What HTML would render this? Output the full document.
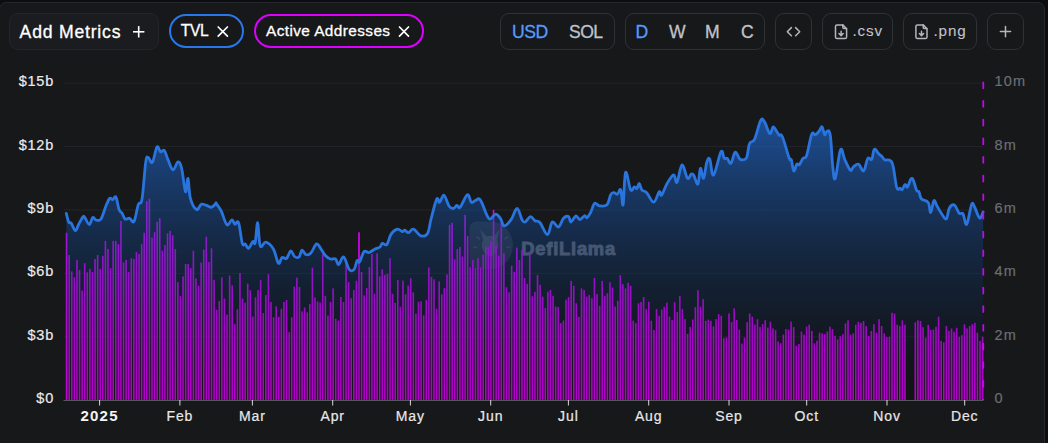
<!DOCTYPE html>
<html><head><meta charset="utf-8">
<style>
html,body{margin:0;padding:0;}
body{width:1048px;height:443px;overflow:hidden;background:#0c0d10;position:relative;font-family:"Liberation Sans",sans-serif;}
.card{position:absolute;left:-1px;top:2px;width:1046px;height:460px;box-sizing:border-box;border:1px solid #26282c;border-radius:7px;background:#17181a;}
.btn{position:absolute;box-sizing:border-box;border:1px solid #2f3135;border-radius:9px;height:37px;top:13px;color:#b6b9bf;font-size:17px;line-height:34px;white-space:nowrap;}
.add{background:#1b1c1f;border-color:#232528;color:#fff;}
.pill{position:absolute;box-sizing:border-box;border:2px solid #2a6fd8;border-radius:17px;height:34px;top:14px;color:#fff;font-size:16px;line-height:29px;white-space:nowrap;}
.t{position:absolute;top:0;}
.blue{color:#559bff;}
svg{position:absolute;left:0;top:0;}
.yl{font-size:14.5px;fill:#ececec;letter-spacing:0.75px;stroke:#e8e8e8;stroke-width:0.2px;}
.yr{font-size:14.5px;fill:#6c6e72;letter-spacing:1.2px;stroke:#686a6e;stroke-width:0.2px;}
.xl{font-size:14px;fill:#e8e8e8;letter-spacing:0.9px;stroke:#e8e8e8;stroke-width:0.2px;}
.xlb{font-size:15px;fill:#f4f4f4;font-weight:bold;letter-spacing:1.2px;}
</style></head>
<body>
<div class="card"></div>

<div class="btn add" style="left:9px;width:150px;"></div>
<div class="pill" style="left:169px;width:75px;border-color:#2877ec;"></div>
<div class="pill" style="left:254px;width:170px;border-color:#dc00ff;"></div>
<div class="btn" style="left:500px;width:115px;"></div>
<div class="btn" style="left:625px;width:140px;"></div>
<div class="btn" style="left:775px;width:37px;"></div>
<div class="btn" style="left:822px;width:71px;"></div>
<div class="btn" style="left:903px;width:74px;"></div>
<div class="btn" style="left:987px;width:37px;"></div>

<svg width="1048" height="60" style="left:0;top:0">
  <g font-family="Liberation Sans, sans-serif" stroke-width="0.3">
    <text x="19.6" y="37.6" font-size="17.6" letter-spacing="0.8" fill="#fff" stroke="#fff">Add Metrics</text>
    <text x="180.8" y="36.1" font-size="15.6" letter-spacing="-0.4" fill="#fff" stroke="#fff">TVL</text>
    <text x="266" y="36" font-size="15.4" letter-spacing="0.4" fill="#fff" stroke="#fff">Active Addresses</text>
    <text x="512" y="37.7" font-size="17.6" letter-spacing="-0.5" fill="#559bff" stroke="#559bff">USD</text>
    <text x="569" y="37.7" font-size="17.6" letter-spacing="-0.6" fill="#c0c3c9" stroke="#c0c3c9">SOL</text>
    <text x="635.6" y="37.7" font-size="17.6" fill="#559bff" stroke="#559bff">D</text>
    <text x="669" y="37.7" font-size="17.6" fill="#c0c3c9" stroke="#c0c3c9">W</text>
    <text x="705" y="37.7" font-size="17.6" fill="#c0c3c9" stroke="#c0c3c9">M</text>
    <text x="741" y="37.7" font-size="17.6" fill="#c0c3c9" stroke="#c0c3c9">C</text>
    <text x="852.5" y="35.7" font-size="15.2" letter-spacing="0.9" fill="#c0c3c9" stroke="#c0c3c9" stroke-width="0.1">.csv</text>
    <text x="933.5" y="35.7" font-size="15.2" letter-spacing="0.9" fill="#c0c3c9" stroke="#c0c3c9" stroke-width="0.1">.png</text>
  </g>
  <g stroke="#ffffff" stroke-width="1.6" fill="none">
    <line x1="133" y1="31.8" x2="144.4" y2="31.8"/><line x1="138.7" y1="26.1" x2="138.7" y2="37.5"/>
  </g>
  <g stroke="#ffffff" stroke-width="1.7" fill="none" stroke-linecap="round">
    <line x1="218.2" y1="27" x2="227.4" y2="36.2"/><line x1="227.4" y1="27" x2="218.2" y2="36.2"/>
    <line x1="399.5" y1="27" x2="408.5" y2="36.2"/><line x1="408.5" y1="27" x2="399.5" y2="36.2"/>
  </g>
  <g stroke="#b4b6ba" stroke-width="1.5" fill="none" stroke-linecap="round" stroke-linejoin="round">
    <polyline points="791.4,27.6 787.3,31.7 791.4,35.8"/><polyline points="795.6,27.6 799.7,31.7 795.6,35.8"/>
    <line x1="1000.4" y1="31.6" x2="1010.6" y2="31.6"/><line x1="1005.5" y1="26.5" x2="1005.5" y2="36.7"/>
    <g transform="translate(0.6,0)">
    <path d="M836.5,24.9 H842.2 L846,28.7 V36.9 Q846,38.5 844.4,38.5 H836.5 Q834.9,38.5 834.9,36.9 V26.5 Q834.9,24.9 836.5,24.9 Z"/>
    <path d="M842.2,25 V27.3 Q842.2,28.6 843.5,28.6 H845.9"/>
    <path d="M840.5,31.2 V35.5 M838.4,33.5 L840.5,35.6 L842.6,33.5"/>
    </g>
    <g transform="translate(81,0)">
    <path d="M836.5,24.9 H842.2 L846,28.7 V36.9 Q846,38.5 844.4,38.5 H836.5 Q834.9,38.5 834.9,36.9 V26.5 Q834.9,24.9 836.5,24.9 Z"/>
    <path d="M842.2,25 V27.3 Q842.2,28.6 843.5,28.6 H845.9"/>
    <path d="M840.5,31.2 V35.5 M838.4,33.5 L840.5,35.6 L842.6,33.5"/>
    </g>
  </g>
</svg>

<svg width="1048" height="443" style="left:0;top:0">
  <defs>
    <linearGradient id="ag" x1="0" y1="120.4" x2="0" y2="400" gradientUnits="userSpaceOnUse">
<stop offset="0.00" stop-color="rgb(33, 114, 229)" stop-opacity="0.600"/>
<stop offset="0.10" stop-color="rgb(30, 103, 206)" stop-opacity="0.560"/>
<stop offset="0.20" stop-color="rgb(26, 91, 183)" stop-opacity="0.520"/>
<stop offset="0.30" stop-color="rgb(23, 80, 160)" stop-opacity="0.480"/>
<stop offset="0.40" stop-color="rgb(20, 68, 137)" stop-opacity="0.440"/>
<stop offset="0.50" stop-color="rgb(16, 57, 114)" stop-opacity="0.400"/>
<stop offset="0.60" stop-color="rgb(13, 46, 92)" stop-opacity="0.360"/>
<stop offset="0.70" stop-color="rgb(10, 34, 69)" stop-opacity="0.320"/>
<stop offset="0.80" stop-color="rgb(7, 23, 46)" stop-opacity="0.280"/>
<stop offset="0.90" stop-color="rgb(3, 11, 23)" stop-opacity="0.240"/>
<stop offset="1.00" stop-color="rgb(0, 0, 0)" stop-opacity="0.200"/>
    </linearGradient>
  </defs>
  <g stroke="#242529" stroke-width="1">
<line x1="63.5" y1="83.2" x2="983" y2="83.2"/>
<line x1="63.5" y1="146.6" x2="983" y2="146.6"/>
<line x1="63.5" y1="210.0" x2="983" y2="210.0"/>
<line x1="63.5" y1="273.4" x2="983" y2="273.4"/>
<line x1="63.5" y1="336.8" x2="983" y2="336.8"/>
  </g>
  <g fill="#c8c8d0">
    <path d="M476.5,221.5 H490 A23,23.75 0 0 1 490,269 H476.5 A7,7 0 0 1 469.5,262 V228.5 A7,7 0 0 1 476.5,221.5 Z" opacity="0.13"/>
    <path d="M480.5,229.5 L486.5,236.5 Q490,235 493.5,236.5 L499.5,229.5 L497,239.5 Q499,245 497.5,249 Q495,256 490,256 Q485,256 482.5,249 Q481,245 483,239.5 Z" opacity="0.2"/>
    <g stroke="#c8c8d0" stroke-width="1.6" stroke-linecap="round" opacity="0.16">
      <line x1="477" y1="237.3" x2="479.5" y2="238.8"/><line x1="473.8" y1="247.2" x2="476.5" y2="247.2"/>
      <line x1="505" y1="238.8" x2="507.5" y2="237.3"/><line x1="507" y1="247.2" x2="509.8" y2="247.2"/>
    </g>
    <text x="521.3" y="255.3" font-size="18.4" font-weight="bold" letter-spacing="0.75" stroke="#c8c8d0" stroke-width="0.9" opacity="0.46">DefiLlama</text>
  </g>
  <g fill="#e100ff">
<rect x="65.80" y="232.7" width="1.6" height="167.3"/>
<rect x="68.39" y="255.0" width="1.6" height="145.0"/>
<rect x="70.97" y="271.4" width="1.6" height="128.6"/>
<rect x="73.56" y="277.3" width="1.6" height="122.7"/>
<rect x="76.15" y="260.0" width="1.6" height="140.0"/>
<rect x="78.74" y="270.0" width="1.6" height="130.0"/>
<rect x="81.33" y="290.5" width="1.6" height="109.5"/>
<rect x="83.91" y="263.2" width="1.6" height="136.8"/>
<rect x="86.50" y="272.4" width="1.6" height="127.6"/>
<rect x="89.09" y="268.9" width="1.6" height="131.1"/>
<rect x="91.67" y="271.9" width="1.6" height="128.1"/>
<rect x="94.26" y="259.0" width="1.6" height="141.0"/>
<rect x="96.85" y="255.0" width="1.6" height="145.0"/>
<rect x="99.44" y="268.9" width="1.6" height="131.1"/>
<rect x="102.02" y="255.8" width="1.6" height="144.2"/>
<rect x="104.61" y="240.9" width="1.6" height="159.1"/>
<rect x="107.20" y="249.0" width="1.6" height="151.0"/>
<rect x="109.79" y="268.2" width="1.6" height="131.8"/>
<rect x="112.37" y="240.9" width="1.6" height="159.1"/>
<rect x="114.96" y="240.9" width="1.6" height="159.1"/>
<rect x="117.55" y="244.1" width="1.6" height="155.9"/>
<rect x="120.14" y="221.0" width="1.6" height="179.0"/>
<rect x="122.72" y="262.5" width="1.6" height="137.5"/>
<rect x="125.31" y="260.0" width="1.6" height="140.0"/>
<rect x="127.90" y="271.9" width="1.6" height="128.1"/>
<rect x="130.49" y="258.2" width="1.6" height="141.8"/>
<rect x="133.07" y="259.0" width="1.6" height="141.0"/>
<rect x="135.66" y="252.0" width="1.6" height="148.0"/>
<rect x="138.25" y="254.0" width="1.6" height="146.0"/>
<rect x="140.84" y="244.1" width="1.6" height="155.9"/>
<rect x="143.42" y="232.7" width="1.6" height="167.3"/>
<rect x="146.01" y="201.2" width="1.6" height="198.8"/>
<rect x="148.60" y="198.7" width="1.6" height="201.3"/>
<rect x="151.19" y="237.6" width="1.6" height="162.4"/>
<rect x="153.77" y="232.2" width="1.6" height="167.8"/>
<rect x="156.36" y="221.8" width="1.6" height="178.2"/>
<rect x="158.95" y="218.2" width="1.6" height="181.8"/>
<rect x="161.54" y="250.8" width="1.6" height="149.2"/>
<rect x="164.12" y="245.1" width="1.6" height="154.9"/>
<rect x="166.71" y="233.4" width="1.6" height="166.6"/>
<rect x="169.30" y="230.9" width="1.6" height="169.1"/>
<rect x="171.89" y="235.2" width="1.6" height="164.8"/>
<rect x="174.47" y="249.1" width="1.6" height="150.9"/>
<rect x="177.06" y="282.1" width="1.6" height="117.9"/>
<rect x="179.65" y="296.1" width="1.6" height="103.9"/>
<rect x="182.24" y="276.3" width="1.6" height="123.7"/>
<rect x="184.82" y="264.0" width="1.6" height="136.0"/>
<rect x="187.41" y="264.0" width="1.6" height="136.0"/>
<rect x="190.00" y="268.2" width="1.6" height="131.8"/>
<rect x="192.59" y="250.8" width="1.6" height="149.2"/>
<rect x="195.17" y="278.4" width="1.6" height="121.6"/>
<rect x="197.76" y="285.8" width="1.6" height="114.2"/>
<rect x="200.35" y="262.5" width="1.6" height="137.5"/>
<rect x="202.94" y="249.6" width="1.6" height="150.4"/>
<rect x="205.52" y="236.7" width="1.6" height="163.3"/>
<rect x="208.11" y="262.0" width="1.6" height="138.0"/>
<rect x="210.70" y="248.3" width="1.6" height="151.7"/>
<rect x="213.29" y="279.9" width="1.6" height="120.1"/>
<rect x="215.87" y="309.7" width="1.6" height="90.3"/>
<rect x="218.46" y="301.0" width="1.6" height="99.0"/>
<rect x="221.05" y="277.4" width="1.6" height="122.6"/>
<rect x="223.64" y="298.5" width="1.6" height="101.5"/>
<rect x="226.22" y="314.7" width="1.6" height="85.3"/>
<rect x="228.81" y="275.5" width="1.6" height="124.5"/>
<rect x="231.40" y="285.4" width="1.6" height="114.6"/>
<rect x="233.99" y="324.1" width="1.6" height="75.9"/>
<rect x="236.57" y="309.2" width="1.6" height="90.8"/>
<rect x="239.16" y="273.0" width="1.6" height="127.0"/>
<rect x="241.75" y="298.5" width="1.6" height="101.5"/>
<rect x="244.34" y="302.8" width="1.6" height="97.2"/>
<rect x="246.92" y="283.6" width="1.6" height="116.4"/>
<rect x="249.51" y="290.3" width="1.6" height="109.7"/>
<rect x="252.10" y="316.6" width="1.6" height="83.4"/>
<rect x="254.69" y="297.3" width="1.6" height="102.7"/>
<rect x="257.27" y="290.0" width="1.6" height="110.0"/>
<rect x="259.86" y="280.1" width="1.6" height="119.9"/>
<rect x="262.45" y="313.1" width="1.6" height="86.9"/>
<rect x="265.04" y="295.0" width="1.6" height="105.0"/>
<rect x="267.62" y="274.2" width="1.6" height="125.8"/>
<rect x="270.21" y="302.0" width="1.6" height="98.0"/>
<rect x="272.80" y="317.3" width="1.6" height="82.7"/>
<rect x="275.39" y="306.4" width="1.6" height="93.6"/>
<rect x="277.97" y="316.8" width="1.6" height="83.2"/>
<rect x="280.56" y="308.9" width="1.6" height="91.1"/>
<rect x="283.15" y="302.0" width="1.6" height="98.0"/>
<rect x="285.74" y="300.0" width="1.6" height="100.0"/>
<rect x="288.32" y="332.2" width="1.6" height="67.8"/>
<rect x="290.91" y="317.3" width="1.6" height="82.7"/>
<rect x="293.50" y="286.6" width="1.6" height="113.4"/>
<rect x="296.09" y="277.6" width="1.6" height="122.4"/>
<rect x="298.68" y="287.1" width="1.6" height="112.9"/>
<rect x="301.26" y="311.4" width="1.6" height="88.6"/>
<rect x="303.85" y="307.4" width="1.6" height="92.6"/>
<rect x="306.44" y="312.4" width="1.6" height="87.6"/>
<rect x="309.02" y="303.9" width="1.6" height="96.1"/>
<rect x="311.61" y="267.7" width="1.6" height="132.3"/>
<rect x="314.20" y="297.5" width="1.6" height="102.5"/>
<rect x="316.79" y="301.5" width="1.6" height="98.5"/>
<rect x="319.37" y="302.5" width="1.6" height="97.5"/>
<rect x="321.96" y="254.3" width="1.6" height="145.7"/>
<rect x="324.55" y="295.8" width="1.6" height="104.2"/>
<rect x="327.14" y="315.6" width="1.6" height="84.4"/>
<rect x="329.72" y="302.0" width="1.6" height="98.0"/>
<rect x="332.31" y="288.3" width="1.6" height="111.7"/>
<rect x="334.90" y="318.8" width="1.6" height="81.2"/>
<rect x="337.49" y="320.6" width="1.6" height="79.4"/>
<rect x="340.07" y="297.0" width="1.6" height="103.0"/>
<rect x="342.66" y="302.0" width="1.6" height="98.0"/>
<rect x="345.25" y="261.8" width="1.6" height="138.2"/>
<rect x="347.84" y="282.1" width="1.6" height="117.9"/>
<rect x="350.43" y="298.2" width="1.6" height="101.8"/>
<rect x="353.01" y="290.0" width="1.6" height="110.0"/>
<rect x="355.60" y="280.8" width="1.6" height="119.2"/>
<rect x="358.19" y="232.3" width="1.6" height="167.7"/>
<rect x="360.77" y="272.0" width="1.6" height="128.0"/>
<rect x="363.36" y="295.5" width="1.6" height="104.5"/>
<rect x="365.95" y="288.1" width="1.6" height="111.9"/>
<rect x="368.54" y="267.0" width="1.6" height="133.0"/>
<rect x="371.12" y="254.1" width="1.6" height="145.9"/>
<rect x="373.71" y="293.8" width="1.6" height="106.2"/>
<rect x="376.30" y="253.3" width="1.6" height="146.7"/>
<rect x="378.89" y="276.4" width="1.6" height="123.6"/>
<rect x="381.47" y="269.5" width="1.6" height="130.5"/>
<rect x="384.06" y="274.9" width="1.6" height="125.1"/>
<rect x="386.65" y="273.9" width="1.6" height="126.1"/>
<rect x="389.24" y="258.3" width="1.6" height="141.7"/>
<rect x="391.82" y="293.8" width="1.6" height="106.2"/>
<rect x="394.41" y="303.0" width="1.6" height="97.0"/>
<rect x="397.00" y="279.9" width="1.6" height="120.1"/>
<rect x="399.59" y="306.7" width="1.6" height="93.3"/>
<rect x="402.18" y="280.6" width="1.6" height="119.4"/>
<rect x="404.76" y="294.3" width="1.6" height="105.7"/>
<rect x="407.35" y="285.6" width="1.6" height="114.4"/>
<rect x="409.94" y="278.2" width="1.6" height="121.8"/>
<rect x="412.52" y="292.3" width="1.6" height="107.7"/>
<rect x="415.11" y="313.7" width="1.6" height="86.3"/>
<rect x="417.70" y="301.7" width="1.6" height="98.3"/>
<rect x="420.29" y="301.2" width="1.6" height="98.8"/>
<rect x="422.87" y="315.4" width="1.6" height="84.6"/>
<rect x="425.46" y="299.8" width="1.6" height="100.2"/>
<rect x="428.05" y="267.5" width="1.6" height="132.5"/>
<rect x="430.64" y="276.9" width="1.6" height="123.1"/>
<rect x="433.22" y="279.4" width="1.6" height="120.6"/>
<rect x="435.81" y="308.8" width="1.6" height="91.2"/>
<rect x="438.40" y="281.4" width="1.6" height="118.6"/>
<rect x="440.99" y="294.3" width="1.6" height="105.7"/>
<rect x="443.57" y="288.1" width="1.6" height="111.9"/>
<rect x="446.16" y="274.4" width="1.6" height="125.6"/>
<rect x="448.75" y="224.8" width="1.6" height="175.2"/>
<rect x="451.34" y="222.8" width="1.6" height="177.2"/>
<rect x="453.93" y="259.3" width="1.6" height="140.7"/>
<rect x="456.51" y="249.1" width="1.6" height="150.9"/>
<rect x="459.10" y="247.1" width="1.6" height="152.9"/>
<rect x="461.69" y="256.5" width="1.6" height="143.5"/>
<rect x="464.27" y="214.9" width="1.6" height="185.1"/>
<rect x="466.86" y="236.0" width="1.6" height="164.0"/>
<rect x="469.45" y="267.0" width="1.6" height="133.0"/>
<rect x="472.04" y="260.0" width="1.6" height="140.0"/>
<rect x="474.62" y="268.2" width="1.6" height="131.8"/>
<rect x="477.21" y="258.3" width="1.6" height="141.7"/>
<rect x="479.80" y="267.5" width="1.6" height="132.5"/>
<rect x="482.39" y="254.6" width="1.6" height="145.4"/>
<rect x="484.97" y="246.6" width="1.6" height="153.4"/>
<rect x="487.56" y="247.1" width="1.6" height="152.9"/>
<rect x="490.15" y="241.7" width="1.6" height="158.3"/>
<rect x="492.74" y="209.9" width="1.6" height="190.1"/>
<rect x="495.32" y="245.9" width="1.6" height="154.1"/>
<rect x="497.91" y="255.8" width="1.6" height="144.2"/>
<rect x="500.50" y="222.3" width="1.6" height="177.7"/>
<rect x="503.09" y="253.3" width="1.6" height="146.7"/>
<rect x="505.68" y="287.3" width="1.6" height="112.7"/>
<rect x="508.26" y="292.3" width="1.6" height="107.7"/>
<rect x="510.85" y="265.7" width="1.6" height="134.3"/>
<rect x="513.44" y="271.9" width="1.6" height="128.1"/>
<rect x="516.02" y="247.6" width="1.6" height="152.4"/>
<rect x="518.61" y="260.0" width="1.6" height="140.0"/>
<rect x="521.20" y="250.1" width="1.6" height="149.9"/>
<rect x="523.79" y="278.1" width="1.6" height="121.9"/>
<rect x="526.38" y="283.8" width="1.6" height="116.2"/>
<rect x="528.96" y="252.6" width="1.6" height="147.4"/>
<rect x="531.55" y="296.2" width="1.6" height="103.8"/>
<rect x="534.14" y="291.8" width="1.6" height="108.2"/>
<rect x="536.73" y="274.9" width="1.6" height="125.1"/>
<rect x="539.31" y="284.8" width="1.6" height="115.2"/>
<rect x="541.90" y="296.7" width="1.6" height="103.3"/>
<rect x="544.49" y="307.9" width="1.6" height="92.1"/>
<rect x="547.08" y="291.7" width="1.6" height="108.3"/>
<rect x="549.66" y="290.0" width="1.6" height="110.0"/>
<rect x="552.25" y="295.8" width="1.6" height="104.2"/>
<rect x="554.84" y="306.5" width="1.6" height="93.5"/>
<rect x="557.43" y="307.0" width="1.6" height="93.0"/>
<rect x="560.01" y="323.1" width="1.6" height="76.9"/>
<rect x="562.60" y="320.6" width="1.6" height="79.4"/>
<rect x="565.19" y="299.6" width="1.6" height="100.4"/>
<rect x="567.77" y="297.1" width="1.6" height="102.9"/>
<rect x="570.36" y="280.9" width="1.6" height="119.1"/>
<rect x="572.95" y="285.9" width="1.6" height="114.1"/>
<rect x="575.54" y="303.3" width="1.6" height="96.7"/>
<rect x="578.12" y="316.9" width="1.6" height="83.1"/>
<rect x="580.71" y="288.4" width="1.6" height="111.6"/>
<rect x="583.30" y="290.1" width="1.6" height="109.9"/>
<rect x="585.89" y="296.6" width="1.6" height="103.4"/>
<rect x="588.48" y="295.1" width="1.6" height="104.9"/>
<rect x="591.06" y="298.3" width="1.6" height="101.7"/>
<rect x="593.65" y="278.0" width="1.6" height="122.0"/>
<rect x="596.24" y="294.1" width="1.6" height="105.9"/>
<rect x="598.83" y="305.8" width="1.6" height="94.2"/>
<rect x="601.41" y="280.9" width="1.6" height="119.1"/>
<rect x="604.00" y="295.8" width="1.6" height="104.2"/>
<rect x="606.59" y="293.3" width="1.6" height="106.7"/>
<rect x="609.18" y="282.2" width="1.6" height="117.8"/>
<rect x="611.76" y="287.6" width="1.6" height="112.4"/>
<rect x="614.35" y="306.5" width="1.6" height="93.5"/>
<rect x="616.94" y="300.8" width="1.6" height="99.2"/>
<rect x="619.53" y="275.2" width="1.6" height="124.8"/>
<rect x="622.11" y="284.2" width="1.6" height="115.8"/>
<rect x="624.70" y="288.4" width="1.6" height="111.6"/>
<rect x="627.29" y="282.7" width="1.6" height="117.3"/>
<rect x="629.88" y="285.9" width="1.6" height="114.1"/>
<rect x="632.46" y="320.6" width="1.6" height="79.4"/>
<rect x="635.05" y="323.1" width="1.6" height="76.9"/>
<rect x="637.64" y="303.3" width="1.6" height="96.7"/>
<rect x="640.23" y="302.0" width="1.6" height="98.0"/>
<rect x="642.81" y="297.1" width="1.6" height="102.9"/>
<rect x="645.40" y="309.1" width="1.6" height="90.9"/>
<rect x="647.99" y="301.7" width="1.6" height="98.3"/>
<rect x="650.58" y="320.8" width="1.6" height="79.2"/>
<rect x="653.16" y="330.0" width="1.6" height="70.0"/>
<rect x="655.75" y="309.1" width="1.6" height="90.9"/>
<rect x="658.34" y="315.8" width="1.6" height="84.2"/>
<rect x="660.93" y="309.6" width="1.6" height="90.4"/>
<rect x="663.51" y="306.7" width="1.6" height="93.3"/>
<rect x="666.10" y="302.7" width="1.6" height="97.3"/>
<rect x="668.69" y="316.6" width="1.6" height="83.4"/>
<rect x="671.28" y="320.0" width="1.6" height="80.0"/>
<rect x="673.86" y="302.2" width="1.6" height="97.8"/>
<rect x="676.45" y="312.1" width="1.6" height="87.9"/>
<rect x="679.04" y="296.0" width="1.6" height="104.0"/>
<rect x="681.62" y="309.1" width="1.6" height="90.9"/>
<rect x="684.21" y="319.1" width="1.6" height="80.9"/>
<rect x="686.80" y="333.9" width="1.6" height="66.1"/>
<rect x="689.39" y="327.0" width="1.6" height="73.0"/>
<rect x="691.98" y="319.6" width="1.6" height="80.4"/>
<rect x="694.56" y="307.1" width="1.6" height="92.9"/>
<rect x="697.15" y="290.3" width="1.6" height="109.7"/>
<rect x="699.74" y="306.7" width="1.6" height="93.3"/>
<rect x="702.33" y="299.2" width="1.6" height="100.8"/>
<rect x="704.91" y="320.8" width="1.6" height="79.2"/>
<rect x="707.50" y="319.6" width="1.6" height="80.4"/>
<rect x="710.09" y="320.8" width="1.6" height="79.2"/>
<rect x="712.68" y="326.5" width="1.6" height="73.5"/>
<rect x="715.26" y="319.1" width="1.6" height="80.9"/>
<rect x="717.85" y="314.1" width="1.6" height="85.9"/>
<rect x="720.44" y="315.8" width="1.6" height="84.2"/>
<rect x="723.03" y="338.2" width="1.6" height="61.8"/>
<rect x="725.61" y="337.4" width="1.6" height="62.6"/>
<rect x="728.20" y="313.3" width="1.6" height="86.7"/>
<rect x="730.79" y="322.0" width="1.6" height="78.0"/>
<rect x="733.38" y="308.4" width="1.6" height="91.6"/>
<rect x="735.96" y="320.0" width="1.6" height="80.0"/>
<rect x="738.55" y="329.6" width="1.6" height="70.4"/>
<rect x="741.14" y="343.6" width="1.6" height="56.4"/>
<rect x="743.73" y="337.5" width="1.6" height="62.5"/>
<rect x="746.31" y="322.2" width="1.6" height="77.8"/>
<rect x="748.90" y="313.5" width="1.6" height="86.5"/>
<rect x="751.49" y="316.7" width="1.6" height="83.3"/>
<rect x="754.08" y="324.7" width="1.6" height="75.3"/>
<rect x="756.66" y="319.2" width="1.6" height="80.8"/>
<rect x="759.25" y="327.1" width="1.6" height="72.9"/>
<rect x="761.84" y="324.2" width="1.6" height="75.8"/>
<rect x="764.43" y="320.2" width="1.6" height="79.8"/>
<rect x="767.01" y="327.6" width="1.6" height="72.4"/>
<rect x="769.60" y="321.7" width="1.6" height="78.3"/>
<rect x="772.19" y="328.4" width="1.6" height="71.6"/>
<rect x="774.78" y="330.1" width="1.6" height="69.9"/>
<rect x="777.36" y="341.5" width="1.6" height="58.5"/>
<rect x="779.95" y="343.3" width="1.6" height="56.7"/>
<rect x="782.54" y="334.6" width="1.6" height="65.4"/>
<rect x="785.12" y="329.1" width="1.6" height="70.9"/>
<rect x="787.71" y="329.6" width="1.6" height="70.4"/>
<rect x="790.30" y="321.7" width="1.6" height="78.3"/>
<rect x="792.89" y="327.1" width="1.6" height="72.9"/>
<rect x="795.48" y="345.8" width="1.6" height="54.2"/>
<rect x="798.06" y="344.0" width="1.6" height="56.0"/>
<rect x="800.65" y="331.6" width="1.6" height="68.4"/>
<rect x="803.24" y="334.6" width="1.6" height="65.4"/>
<rect x="805.83" y="326.7" width="1.6" height="73.3"/>
<rect x="808.41" y="324.7" width="1.6" height="75.3"/>
<rect x="811.00" y="330.9" width="1.6" height="69.1"/>
<rect x="813.59" y="343.3" width="1.6" height="56.7"/>
<rect x="816.18" y="340.8" width="1.6" height="59.2"/>
<rect x="818.76" y="332.6" width="1.6" height="67.4"/>
<rect x="821.35" y="333.4" width="1.6" height="66.6"/>
<rect x="823.94" y="334.1" width="1.6" height="65.9"/>
<rect x="826.53" y="331.6" width="1.6" height="68.4"/>
<rect x="829.11" y="326.7" width="1.6" height="73.3"/>
<rect x="831.70" y="329.1" width="1.6" height="70.9"/>
<rect x="834.29" y="335.8" width="1.6" height="64.2"/>
<rect x="836.88" y="339.4" width="1.6" height="60.6"/>
<rect x="839.46" y="336.2" width="1.6" height="63.8"/>
<rect x="842.05" y="334.2" width="1.6" height="65.8"/>
<rect x="844.64" y="323.5" width="1.6" height="76.5"/>
<rect x="847.23" y="320.3" width="1.6" height="79.7"/>
<rect x="849.81" y="334.7" width="1.6" height="65.3"/>
<rect x="852.40" y="333.4" width="1.6" height="66.6"/>
<rect x="854.99" y="324.7" width="1.6" height="75.3"/>
<rect x="857.58" y="321.8" width="1.6" height="78.2"/>
<rect x="860.16" y="322.8" width="1.6" height="77.2"/>
<rect x="862.75" y="321.0" width="1.6" height="79.0"/>
<rect x="865.34" y="326.0" width="1.6" height="74.0"/>
<rect x="867.93" y="335.9" width="1.6" height="64.1"/>
<rect x="870.51" y="330.9" width="1.6" height="69.1"/>
<rect x="873.10" y="324.2" width="1.6" height="75.8"/>
<rect x="875.69" y="332.7" width="1.6" height="67.3"/>
<rect x="878.28" y="319.3" width="1.6" height="80.7"/>
<rect x="880.86" y="326.0" width="1.6" height="74.0"/>
<rect x="883.45" y="333.4" width="1.6" height="66.6"/>
<rect x="886.04" y="337.1" width="1.6" height="62.9"/>
<rect x="888.62" y="336.7" width="1.6" height="63.3"/>
<rect x="891.21" y="312.8" width="1.6" height="87.2"/>
<rect x="893.80" y="313.6" width="1.6" height="86.4"/>
<rect x="896.39" y="324.7" width="1.6" height="75.3"/>
<rect x="898.98" y="326.0" width="1.6" height="74.0"/>
<rect x="901.56" y="320.3" width="1.6" height="79.7"/>
<rect x="904.15" y="324.7" width="1.6" height="75.3"/>
<rect x="914.50" y="322.3" width="1.6" height="77.7"/>
<rect x="917.09" y="320.3" width="1.6" height="79.7"/>
<rect x="919.68" y="321.0" width="1.6" height="79.0"/>
<rect x="922.26" y="327.2" width="1.6" height="72.8"/>
<rect x="924.85" y="337.6" width="1.6" height="62.4"/>
<rect x="927.44" y="324.8" width="1.6" height="75.2"/>
<rect x="930.03" y="330.0" width="1.6" height="70.0"/>
<rect x="932.61" y="329.5" width="1.6" height="70.5"/>
<rect x="935.20" y="326.8" width="1.6" height="73.2"/>
<rect x="937.79" y="316.8" width="1.6" height="83.2"/>
<rect x="940.38" y="340.9" width="1.6" height="59.1"/>
<rect x="942.96" y="342.2" width="1.6" height="57.8"/>
<rect x="945.55" y="326.0" width="1.6" height="74.0"/>
<rect x="948.14" y="331.0" width="1.6" height="69.0"/>
<rect x="950.73" y="328.5" width="1.6" height="71.5"/>
<rect x="953.31" y="331.7" width="1.6" height="68.3"/>
<rect x="955.90" y="327.8" width="1.6" height="72.2"/>
<rect x="958.49" y="336.7" width="1.6" height="63.3"/>
<rect x="961.08" y="335.2" width="1.6" height="64.8"/>
<rect x="963.66" y="324.3" width="1.6" height="75.7"/>
<rect x="966.25" y="328.5" width="1.6" height="71.5"/>
<rect x="968.84" y="326.0" width="1.6" height="74.0"/>
<rect x="971.43" y="324.3" width="1.6" height="75.7"/>
<rect x="974.01" y="322.8" width="1.6" height="77.2"/>
<rect x="976.60" y="332.7" width="1.6" height="67.3"/>
<rect x="979.19" y="340.9" width="1.6" height="59.1"/>
<rect x="981.78" y="336.7" width="1.6" height="63.3"/>
  </g>
  <path d="M66.30,213.40 C66.73,214.95 67.82,220.24 68.70,222.00 C69.58,223.76 69.99,221.63 71.20,223.20 C72.41,224.77 74.07,230.47 75.40,230.70 C76.73,230.93 77.25,226.97 78.60,224.50 C79.95,222.03 81.78,218.26 82.90,217.00 C84.02,215.74 83.65,216.15 84.80,217.50 C85.95,218.85 87.86,224.50 89.30,224.50 C90.74,224.50 91.59,218.31 92.80,217.50 C94.01,216.69 94.52,219.73 96.00,220.00 C97.48,220.27 99.20,221.56 101.00,219.00 C102.80,216.44 104.43,209.51 106.00,205.80 C107.57,202.09 108.49,199.52 109.70,198.40 C110.91,197.28 111.58,199.83 112.70,199.60 C113.82,199.37 114.75,195.30 115.90,197.10 C117.05,198.90 117.98,206.68 119.10,209.60 C120.22,212.52 121.02,211.61 122.10,213.30 C123.18,214.99 123.75,218.10 125.10,219.00 C126.45,219.90 128.00,217.85 129.60,218.30 C131.20,218.75 132.43,223.97 134.00,221.50 C135.57,219.03 136.86,208.63 138.30,204.60 C139.74,200.57 140.67,206.70 142.00,199.10 C143.33,191.50 144.58,169.91 145.70,162.40 C146.82,154.89 146.99,157.40 148.20,157.40 C149.41,157.40 150.83,164.27 152.40,162.40 C153.97,160.53 155.42,148.89 156.90,147.00 C158.38,145.11 159.27,151.29 160.60,151.90 C161.93,152.51 162.95,148.96 164.30,150.40 C165.65,151.84 166.53,156.41 168.10,159.90 C169.67,163.39 171.22,169.44 173.00,169.80 C174.78,170.16 176.43,162.12 178.00,161.90 C179.57,161.68 180.35,163.24 181.70,168.60 C183.05,173.96 184.37,189.92 185.50,191.70 C186.63,193.48 187.12,177.29 188.00,178.50 C188.88,179.71 188.85,192.80 190.40,198.40 C191.95,204.00 194.58,208.57 196.60,209.60 C198.62,210.63 199.37,204.64 201.60,204.10 C203.83,203.56 207.13,206.06 209.00,206.60 C210.87,207.14 210.74,207.68 212.00,207.10 C213.26,206.52 215.24,204.03 216.00,203.40 C216.76,202.77 215.26,202.23 216.20,203.60 C217.14,204.97 219.27,207.20 221.20,211.00 C223.13,214.80 224.97,223.12 226.90,224.70 C228.83,226.28 230.46,219.89 231.90,219.80 C233.34,219.71 233.69,223.68 234.90,224.20 C236.11,224.72 237.27,219.24 238.60,222.70 C239.93,226.16 241.09,239.55 242.30,243.40 C243.51,247.25 244.18,243.22 245.30,244.10 C246.42,244.98 247.15,248.75 248.50,248.30 C249.85,247.85 251.59,242.63 252.80,241.60 C254.01,240.57 254.32,246.00 255.20,242.60 C256.08,239.20 256.80,222.12 257.70,222.70 C258.60,223.28 258.72,242.31 260.20,245.80 C261.68,249.29 263.52,241.52 265.90,242.10 C268.28,242.68 271.15,245.20 273.40,249.00 C275.65,252.80 276.83,261.67 278.40,263.20 C279.97,264.73 280.62,258.38 282.10,257.50 C283.58,256.62 285.03,259.51 286.60,258.30 C288.17,257.09 289.38,251.12 290.80,250.80 C292.22,250.48 293.02,255.38 294.50,256.50 C295.98,257.62 297.65,258.15 299.00,257.00 C300.35,255.85 300.79,250.55 302.00,250.10 C303.21,249.65 304.13,253.92 305.70,254.50 C307.27,255.08 308.77,255.17 310.70,253.30 C312.63,251.43 314.62,245.00 316.40,244.10 C318.18,243.20 318.94,246.19 320.60,248.30 C322.26,250.41 323.82,253.87 325.60,255.80 C327.38,257.73 328.72,258.42 330.50,259.00 C332.28,259.58 334.02,258.01 335.50,259.00 C336.98,259.99 337.22,264.86 338.70,264.50 C340.18,264.14 341.81,256.12 343.70,257.00 C345.59,257.88 347.33,267.17 349.20,269.40 C351.07,271.63 352.68,270.97 354.10,269.40 C355.52,267.83 356.11,262.03 357.10,260.70 C358.09,259.37 358.34,263.64 359.60,262.00 C360.86,260.36 362.41,253.31 364.10,251.60 C365.79,249.89 367.04,252.97 369.00,252.50 C370.96,252.03 373.02,249.99 375.00,249.00 C376.98,248.01 378.67,248.03 380.00,247.00 C381.33,245.97 381.16,243.75 382.40,243.30 C383.64,242.85 385.33,246.16 386.90,244.50 C388.47,242.84 389.23,236.87 391.10,234.10 C392.97,231.33 395.28,229.55 397.30,229.10 C399.32,228.65 400.95,231.42 402.30,231.60 C403.65,231.78 403.68,229.92 404.80,230.10 C405.92,230.28 406.93,232.78 408.50,232.60 C410.07,232.42 411.27,228.52 413.50,229.10 C415.73,229.68 418.36,235.03 420.90,235.80 C423.44,236.57 425.80,236.30 427.60,233.40 C429.40,230.50 429.28,225.84 430.90,219.70 C432.52,213.56 435.03,202.43 436.60,199.30 C438.17,196.17 438.27,203.02 439.60,202.30 C440.93,201.58 442.31,194.63 444.00,195.30 C445.69,195.97 447.34,203.62 449.00,206.00 C450.66,208.38 451.76,208.63 453.20,208.50 C454.64,208.37 455.78,205.52 457.00,205.30 C458.22,205.08 458.13,209.19 460.00,207.30 C461.87,205.41 465.35,195.70 467.40,194.80 C469.45,193.90 469.92,201.31 471.40,202.30 C472.88,203.29 473.94,200.66 475.60,200.30 C477.26,199.94 478.22,197.04 480.60,200.30 C482.98,203.56 486.12,215.90 488.80,218.40 C491.48,220.90 493.41,214.20 495.50,214.20 C497.59,214.20 498.83,216.29 500.40,218.40 C501.97,220.51 502.27,225.67 504.20,225.90 C506.13,226.13 508.78,222.83 511.10,219.70 C513.42,216.57 515.14,208.50 517.10,208.50 C519.06,208.50 520.58,217.27 522.00,219.70 C523.42,222.13 523.47,222.56 525.00,222.00 C526.53,221.44 528.70,216.82 530.50,216.60 C532.30,216.38 533.31,219.74 535.00,220.80 C536.69,221.86 537.67,220.03 539.90,222.50 C542.13,224.97 545.17,234.59 547.40,234.50 C549.63,234.41 550.30,223.35 552.30,222.00 C554.30,220.65 556.48,227.67 558.50,227.00 C560.52,226.33 561.70,220.17 563.50,218.30 C565.30,216.43 567.15,215.93 568.50,216.60 C569.85,217.27 569.67,222.14 571.00,222.00 C572.33,221.86 574.33,216.23 575.90,215.80 C577.47,215.37 578.13,219.60 579.70,219.60 C581.27,219.60 583.27,216.16 584.60,215.80 C585.93,215.44 585.98,218.27 587.10,217.60 C588.22,216.93 589.45,214.66 590.80,212.10 C592.15,209.54 593.03,204.52 594.60,203.40 C596.17,202.28 597.27,205.67 599.50,205.90 C601.73,206.13 604.98,206.72 607.00,204.70 C609.02,202.68 609.46,196.86 610.70,194.70 C611.94,192.54 612.69,192.79 613.90,192.70 C615.11,192.61 616.18,194.72 617.40,194.20 C618.62,193.68 619.67,187.91 620.70,189.80 C621.73,191.69 622.22,207.83 623.10,204.70 C623.98,201.57 624.25,175.08 625.60,172.40 C626.95,169.72 629.03,187.21 630.60,189.80 C632.17,192.39 633.18,187.03 634.30,186.80 C635.42,186.57 635.90,189.09 636.80,188.50 C637.70,187.91 638.40,183.27 639.30,183.50 C640.20,183.73 640.47,188.14 641.80,189.80 C643.13,191.46 644.56,190.47 646.70,192.70 C648.84,194.93 651.45,202.38 653.70,202.20 C655.95,202.02 657.78,192.96 659.20,191.70 C660.62,190.44 660.18,196.68 661.60,195.20 C663.02,193.72 664.94,187.17 667.10,183.50 C669.26,179.83 671.82,175.02 673.60,174.80 C675.38,174.58 675.49,184.08 677.00,182.30 C678.51,180.52 680.11,165.62 682.00,164.90 C683.89,164.18 685.84,176.64 687.50,178.30 C689.16,179.96 690.08,174.68 691.20,174.10 C692.32,173.52 692.49,173.32 693.70,175.10 C694.91,176.88 696.69,185.21 697.90,184.00 C699.11,182.79 699.37,169.43 700.40,168.40 C701.43,167.37 702.45,179.42 703.60,178.30 C704.75,177.18 705.68,165.64 706.80,162.20 C707.92,158.76 708.59,156.88 709.80,159.20 C711.01,161.52 711.48,176.45 713.50,175.10 C715.52,173.75 719.07,154.71 721.00,151.70 C722.93,148.69 723.08,157.19 724.20,158.40 C725.32,159.61 725.99,157.50 727.20,158.40 C728.41,159.30 729.55,164.43 730.90,163.40 C732.25,162.37 733.58,154.36 734.70,152.70 C735.82,151.04 736.13,153.03 737.10,154.20 C738.07,155.37 738.66,158.30 740.10,159.20 C741.54,160.10 743.84,159.78 745.10,159.20 C746.36,158.62 746.29,158.83 747.10,156.00 C747.91,153.17 748.27,146.51 749.60,143.50 C750.93,140.49 752.50,143.46 754.50,139.30 C756.50,135.14 758.90,123.53 760.70,120.40 C762.50,117.27 762.84,119.52 764.50,121.90 C766.16,124.28 768.33,132.70 769.90,133.60 C771.47,134.50 771.94,127.21 773.20,126.90 C774.46,126.59 775.78,130.39 776.90,131.90 C778.02,133.41 778.41,134.42 779.40,135.30 C780.39,136.18 780.62,132.64 782.40,136.80 C784.18,140.96 787.70,154.28 789.30,158.40 C790.90,162.52 790.49,157.45 791.30,159.70 C792.11,161.95 792.81,170.09 793.80,170.90 C794.79,171.71 795.81,165.32 796.80,164.20 C797.79,163.08 798.18,165.74 799.30,164.70 C800.42,163.66 801.67,160.11 803.00,158.40 C804.33,156.69 805.13,159.54 806.70,155.20 C808.27,150.86 810.13,137.97 811.70,134.30 C813.27,130.63 814.07,135.38 815.40,134.80 C816.73,134.22 817.89,132.52 819.10,131.10 C820.31,129.68 821.11,126.23 822.10,126.90 C823.09,127.57 823.70,134.04 824.60,134.80 C825.50,135.56 826.07,131.01 827.10,131.10 C828.13,131.19 829.27,128.82 830.30,135.30 C831.33,141.78 831.90,159.36 832.80,167.10 C833.70,174.84 833.91,181.41 835.30,178.30 C836.69,175.19 838.77,153.13 840.50,149.80 C842.23,146.47 843.12,156.13 844.90,159.80 C846.68,163.47 848.83,168.96 850.40,170.20 C851.97,171.44 852.12,167.78 853.60,166.70 C855.08,165.62 856.80,163.44 858.60,164.20 C860.40,164.96 861.94,171.93 863.60,170.90 C865.26,169.87 866.32,160.59 867.80,158.50 C869.28,156.41 870.63,160.96 871.80,159.30 C872.97,157.64 873.09,150.34 874.30,149.30 C875.51,148.26 877.08,152.15 878.50,153.50 C879.92,154.85 881.08,155.67 882.20,156.80 C883.32,157.93 882.92,158.74 884.70,159.80 C886.48,160.86 889.96,157.79 892.10,162.70 C894.24,167.61 895.16,182.49 896.60,187.10 C898.04,191.71 899.11,187.85 900.10,188.30 C901.09,188.75 901.20,190.27 902.10,189.60 C903.00,188.93 904.13,185.05 905.10,184.60 C906.07,184.15 906.47,188.09 907.50,187.10 C908.53,186.11 909.76,180.36 910.80,179.10 C911.84,177.84 912.27,178.12 913.30,180.10 C914.33,182.08 915.47,187.96 916.50,190.10 C917.53,192.24 918.10,190.40 919.00,192.00 C919.90,193.60 919.84,197.11 921.50,199.00 C923.16,200.89 926.54,200.09 928.20,202.50 C929.86,204.91 929.67,212.72 930.70,212.40 C931.73,212.08 932.78,201.91 933.90,200.70 C935.02,199.49 935.57,203.45 936.90,205.70 C938.23,207.95 939.61,210.82 941.30,213.20 C942.99,215.58 944.86,219.80 946.30,218.90 C947.74,218.00 947.86,210.70 949.30,208.20 C950.74,205.70 952.52,204.10 954.30,205.00 C956.08,205.90 957.63,211.60 959.20,213.20 C960.77,214.80 961.65,211.90 963.00,213.90 C964.35,215.90 965.15,225.99 966.70,224.30 C968.25,222.61 970.18,207.61 971.60,204.50 C973.02,201.39 973.16,204.55 974.60,207.00 C976.04,209.45 978.07,217.22 979.60,218.10 C981.13,218.98 982.47,213.02 983.10,211.90 L983.1,400.0 L66.3,400.0 Z" fill="url(#ag)"/>
  <path d="M66.30,213.40 C66.73,214.95 67.82,220.24 68.70,222.00 C69.58,223.76 69.99,221.63 71.20,223.20 C72.41,224.77 74.07,230.47 75.40,230.70 C76.73,230.93 77.25,226.97 78.60,224.50 C79.95,222.03 81.78,218.26 82.90,217.00 C84.02,215.74 83.65,216.15 84.80,217.50 C85.95,218.85 87.86,224.50 89.30,224.50 C90.74,224.50 91.59,218.31 92.80,217.50 C94.01,216.69 94.52,219.73 96.00,220.00 C97.48,220.27 99.20,221.56 101.00,219.00 C102.80,216.44 104.43,209.51 106.00,205.80 C107.57,202.09 108.49,199.52 109.70,198.40 C110.91,197.28 111.58,199.83 112.70,199.60 C113.82,199.37 114.75,195.30 115.90,197.10 C117.05,198.90 117.98,206.68 119.10,209.60 C120.22,212.52 121.02,211.61 122.10,213.30 C123.18,214.99 123.75,218.10 125.10,219.00 C126.45,219.90 128.00,217.85 129.60,218.30 C131.20,218.75 132.43,223.97 134.00,221.50 C135.57,219.03 136.86,208.63 138.30,204.60 C139.74,200.57 140.67,206.70 142.00,199.10 C143.33,191.50 144.58,169.91 145.70,162.40 C146.82,154.89 146.99,157.40 148.20,157.40 C149.41,157.40 150.83,164.27 152.40,162.40 C153.97,160.53 155.42,148.89 156.90,147.00 C158.38,145.11 159.27,151.29 160.60,151.90 C161.93,152.51 162.95,148.96 164.30,150.40 C165.65,151.84 166.53,156.41 168.10,159.90 C169.67,163.39 171.22,169.44 173.00,169.80 C174.78,170.16 176.43,162.12 178.00,161.90 C179.57,161.68 180.35,163.24 181.70,168.60 C183.05,173.96 184.37,189.92 185.50,191.70 C186.63,193.48 187.12,177.29 188.00,178.50 C188.88,179.71 188.85,192.80 190.40,198.40 C191.95,204.00 194.58,208.57 196.60,209.60 C198.62,210.63 199.37,204.64 201.60,204.10 C203.83,203.56 207.13,206.06 209.00,206.60 C210.87,207.14 210.74,207.68 212.00,207.10 C213.26,206.52 215.24,204.03 216.00,203.40 C216.76,202.77 215.26,202.23 216.20,203.60 C217.14,204.97 219.27,207.20 221.20,211.00 C223.13,214.80 224.97,223.12 226.90,224.70 C228.83,226.28 230.46,219.89 231.90,219.80 C233.34,219.71 233.69,223.68 234.90,224.20 C236.11,224.72 237.27,219.24 238.60,222.70 C239.93,226.16 241.09,239.55 242.30,243.40 C243.51,247.25 244.18,243.22 245.30,244.10 C246.42,244.98 247.15,248.75 248.50,248.30 C249.85,247.85 251.59,242.63 252.80,241.60 C254.01,240.57 254.32,246.00 255.20,242.60 C256.08,239.20 256.80,222.12 257.70,222.70 C258.60,223.28 258.72,242.31 260.20,245.80 C261.68,249.29 263.52,241.52 265.90,242.10 C268.28,242.68 271.15,245.20 273.40,249.00 C275.65,252.80 276.83,261.67 278.40,263.20 C279.97,264.73 280.62,258.38 282.10,257.50 C283.58,256.62 285.03,259.51 286.60,258.30 C288.17,257.09 289.38,251.12 290.80,250.80 C292.22,250.48 293.02,255.38 294.50,256.50 C295.98,257.62 297.65,258.15 299.00,257.00 C300.35,255.85 300.79,250.55 302.00,250.10 C303.21,249.65 304.13,253.92 305.70,254.50 C307.27,255.08 308.77,255.17 310.70,253.30 C312.63,251.43 314.62,245.00 316.40,244.10 C318.18,243.20 318.94,246.19 320.60,248.30 C322.26,250.41 323.82,253.87 325.60,255.80 C327.38,257.73 328.72,258.42 330.50,259.00 C332.28,259.58 334.02,258.01 335.50,259.00 C336.98,259.99 337.22,264.86 338.70,264.50 C340.18,264.14 341.81,256.12 343.70,257.00 C345.59,257.88 347.33,267.17 349.20,269.40 C351.07,271.63 352.68,270.97 354.10,269.40 C355.52,267.83 356.11,262.03 357.10,260.70 C358.09,259.37 358.34,263.64 359.60,262.00 C360.86,260.36 362.41,253.31 364.10,251.60 C365.79,249.89 367.04,252.97 369.00,252.50 C370.96,252.03 373.02,249.99 375.00,249.00 C376.98,248.01 378.67,248.03 380.00,247.00 C381.33,245.97 381.16,243.75 382.40,243.30 C383.64,242.85 385.33,246.16 386.90,244.50 C388.47,242.84 389.23,236.87 391.10,234.10 C392.97,231.33 395.28,229.55 397.30,229.10 C399.32,228.65 400.95,231.42 402.30,231.60 C403.65,231.78 403.68,229.92 404.80,230.10 C405.92,230.28 406.93,232.78 408.50,232.60 C410.07,232.42 411.27,228.52 413.50,229.10 C415.73,229.68 418.36,235.03 420.90,235.80 C423.44,236.57 425.80,236.30 427.60,233.40 C429.40,230.50 429.28,225.84 430.90,219.70 C432.52,213.56 435.03,202.43 436.60,199.30 C438.17,196.17 438.27,203.02 439.60,202.30 C440.93,201.58 442.31,194.63 444.00,195.30 C445.69,195.97 447.34,203.62 449.00,206.00 C450.66,208.38 451.76,208.63 453.20,208.50 C454.64,208.37 455.78,205.52 457.00,205.30 C458.22,205.08 458.13,209.19 460.00,207.30 C461.87,205.41 465.35,195.70 467.40,194.80 C469.45,193.90 469.92,201.31 471.40,202.30 C472.88,203.29 473.94,200.66 475.60,200.30 C477.26,199.94 478.22,197.04 480.60,200.30 C482.98,203.56 486.12,215.90 488.80,218.40 C491.48,220.90 493.41,214.20 495.50,214.20 C497.59,214.20 498.83,216.29 500.40,218.40 C501.97,220.51 502.27,225.67 504.20,225.90 C506.13,226.13 508.78,222.83 511.10,219.70 C513.42,216.57 515.14,208.50 517.10,208.50 C519.06,208.50 520.58,217.27 522.00,219.70 C523.42,222.13 523.47,222.56 525.00,222.00 C526.53,221.44 528.70,216.82 530.50,216.60 C532.30,216.38 533.31,219.74 535.00,220.80 C536.69,221.86 537.67,220.03 539.90,222.50 C542.13,224.97 545.17,234.59 547.40,234.50 C549.63,234.41 550.30,223.35 552.30,222.00 C554.30,220.65 556.48,227.67 558.50,227.00 C560.52,226.33 561.70,220.17 563.50,218.30 C565.30,216.43 567.15,215.93 568.50,216.60 C569.85,217.27 569.67,222.14 571.00,222.00 C572.33,221.86 574.33,216.23 575.90,215.80 C577.47,215.37 578.13,219.60 579.70,219.60 C581.27,219.60 583.27,216.16 584.60,215.80 C585.93,215.44 585.98,218.27 587.10,217.60 C588.22,216.93 589.45,214.66 590.80,212.10 C592.15,209.54 593.03,204.52 594.60,203.40 C596.17,202.28 597.27,205.67 599.50,205.90 C601.73,206.13 604.98,206.72 607.00,204.70 C609.02,202.68 609.46,196.86 610.70,194.70 C611.94,192.54 612.69,192.79 613.90,192.70 C615.11,192.61 616.18,194.72 617.40,194.20 C618.62,193.68 619.67,187.91 620.70,189.80 C621.73,191.69 622.22,207.83 623.10,204.70 C623.98,201.57 624.25,175.08 625.60,172.40 C626.95,169.72 629.03,187.21 630.60,189.80 C632.17,192.39 633.18,187.03 634.30,186.80 C635.42,186.57 635.90,189.09 636.80,188.50 C637.70,187.91 638.40,183.27 639.30,183.50 C640.20,183.73 640.47,188.14 641.80,189.80 C643.13,191.46 644.56,190.47 646.70,192.70 C648.84,194.93 651.45,202.38 653.70,202.20 C655.95,202.02 657.78,192.96 659.20,191.70 C660.62,190.44 660.18,196.68 661.60,195.20 C663.02,193.72 664.94,187.17 667.10,183.50 C669.26,179.83 671.82,175.02 673.60,174.80 C675.38,174.58 675.49,184.08 677.00,182.30 C678.51,180.52 680.11,165.62 682.00,164.90 C683.89,164.18 685.84,176.64 687.50,178.30 C689.16,179.96 690.08,174.68 691.20,174.10 C692.32,173.52 692.49,173.32 693.70,175.10 C694.91,176.88 696.69,185.21 697.90,184.00 C699.11,182.79 699.37,169.43 700.40,168.40 C701.43,167.37 702.45,179.42 703.60,178.30 C704.75,177.18 705.68,165.64 706.80,162.20 C707.92,158.76 708.59,156.88 709.80,159.20 C711.01,161.52 711.48,176.45 713.50,175.10 C715.52,173.75 719.07,154.71 721.00,151.70 C722.93,148.69 723.08,157.19 724.20,158.40 C725.32,159.61 725.99,157.50 727.20,158.40 C728.41,159.30 729.55,164.43 730.90,163.40 C732.25,162.37 733.58,154.36 734.70,152.70 C735.82,151.04 736.13,153.03 737.10,154.20 C738.07,155.37 738.66,158.30 740.10,159.20 C741.54,160.10 743.84,159.78 745.10,159.20 C746.36,158.62 746.29,158.83 747.10,156.00 C747.91,153.17 748.27,146.51 749.60,143.50 C750.93,140.49 752.50,143.46 754.50,139.30 C756.50,135.14 758.90,123.53 760.70,120.40 C762.50,117.27 762.84,119.52 764.50,121.90 C766.16,124.28 768.33,132.70 769.90,133.60 C771.47,134.50 771.94,127.21 773.20,126.90 C774.46,126.59 775.78,130.39 776.90,131.90 C778.02,133.41 778.41,134.42 779.40,135.30 C780.39,136.18 780.62,132.64 782.40,136.80 C784.18,140.96 787.70,154.28 789.30,158.40 C790.90,162.52 790.49,157.45 791.30,159.70 C792.11,161.95 792.81,170.09 793.80,170.90 C794.79,171.71 795.81,165.32 796.80,164.20 C797.79,163.08 798.18,165.74 799.30,164.70 C800.42,163.66 801.67,160.11 803.00,158.40 C804.33,156.69 805.13,159.54 806.70,155.20 C808.27,150.86 810.13,137.97 811.70,134.30 C813.27,130.63 814.07,135.38 815.40,134.80 C816.73,134.22 817.89,132.52 819.10,131.10 C820.31,129.68 821.11,126.23 822.10,126.90 C823.09,127.57 823.70,134.04 824.60,134.80 C825.50,135.56 826.07,131.01 827.10,131.10 C828.13,131.19 829.27,128.82 830.30,135.30 C831.33,141.78 831.90,159.36 832.80,167.10 C833.70,174.84 833.91,181.41 835.30,178.30 C836.69,175.19 838.77,153.13 840.50,149.80 C842.23,146.47 843.12,156.13 844.90,159.80 C846.68,163.47 848.83,168.96 850.40,170.20 C851.97,171.44 852.12,167.78 853.60,166.70 C855.08,165.62 856.80,163.44 858.60,164.20 C860.40,164.96 861.94,171.93 863.60,170.90 C865.26,169.87 866.32,160.59 867.80,158.50 C869.28,156.41 870.63,160.96 871.80,159.30 C872.97,157.64 873.09,150.34 874.30,149.30 C875.51,148.26 877.08,152.15 878.50,153.50 C879.92,154.85 881.08,155.67 882.20,156.80 C883.32,157.93 882.92,158.74 884.70,159.80 C886.48,160.86 889.96,157.79 892.10,162.70 C894.24,167.61 895.16,182.49 896.60,187.10 C898.04,191.71 899.11,187.85 900.10,188.30 C901.09,188.75 901.20,190.27 902.10,189.60 C903.00,188.93 904.13,185.05 905.10,184.60 C906.07,184.15 906.47,188.09 907.50,187.10 C908.53,186.11 909.76,180.36 910.80,179.10 C911.84,177.84 912.27,178.12 913.30,180.10 C914.33,182.08 915.47,187.96 916.50,190.10 C917.53,192.24 918.10,190.40 919.00,192.00 C919.90,193.60 919.84,197.11 921.50,199.00 C923.16,200.89 926.54,200.09 928.20,202.50 C929.86,204.91 929.67,212.72 930.70,212.40 C931.73,212.08 932.78,201.91 933.90,200.70 C935.02,199.49 935.57,203.45 936.90,205.70 C938.23,207.95 939.61,210.82 941.30,213.20 C942.99,215.58 944.86,219.80 946.30,218.90 C947.74,218.00 947.86,210.70 949.30,208.20 C950.74,205.70 952.52,204.10 954.30,205.00 C956.08,205.90 957.63,211.60 959.20,213.20 C960.77,214.80 961.65,211.90 963.00,213.90 C964.35,215.90 965.15,225.99 966.70,224.30 C968.25,222.61 970.18,207.61 971.60,204.50 C973.02,201.39 973.16,204.55 974.60,207.00 C976.04,209.45 978.07,217.22 979.60,218.10 C981.13,218.98 982.47,213.02 983.10,211.90" fill="none" stroke="#2a74de" stroke-width="2.8" stroke-linecap="round" stroke-linejoin="round"/>
  <line x1="63.5" y1="400.5" x2="983.5" y2="400.5" stroke="#55575c" stroke-width="1"/>
  <line x1="983.3" y1="81.7" x2="983.3" y2="400" stroke="#d000ff" stroke-width="1.7" stroke-dasharray="7.2 11.46"/>
  <g stroke="#d8d8d8" stroke-width="1">
<line x1="99.6" y1="400" x2="99.6" y2="405.5"/>
<line x1="179.9" y1="400" x2="179.9" y2="405.5"/>
<line x1="252.4" y1="400" x2="252.4" y2="405.5"/>
<line x1="332.7" y1="400" x2="332.7" y2="405.5"/>
<line x1="410.4" y1="400" x2="410.4" y2="405.5"/>
<line x1="490.7" y1="400" x2="490.7" y2="405.5"/>
<line x1="568.4" y1="400" x2="568.4" y2="405.5"/>
<line x1="648.7" y1="400" x2="648.7" y2="405.5"/>
<line x1="729.0" y1="400" x2="729.0" y2="405.5"/>
<line x1="806.7" y1="400" x2="806.7" y2="405.5"/>
<line x1="887.0" y1="400" x2="887.0" y2="405.5"/>
<line x1="964.7" y1="400" x2="964.7" y2="405.5"/>
  </g>
<text class="yl" x="54" y="86.2" text-anchor="end">$15b</text>
<text class="yr" x="994.5" y="86.2">10m</text>
<text class="yl" x="54" y="149.6" text-anchor="end">$12b</text>
<text class="yr" x="994.5" y="149.6">8m</text>
<text class="yl" x="54" y="213.0" text-anchor="end">$9b</text>
<text class="yr" x="994.5" y="213.0">6m</text>
<text class="yl" x="54" y="276.4" text-anchor="end">$6b</text>
<text class="yr" x="994.5" y="276.4">4m</text>
<text class="yl" x="54" y="339.8" text-anchor="end">$3b</text>
<text class="yr" x="994.5" y="339.8">2m</text>
<text class="yl" x="54" y="403.2" text-anchor="end">$0</text>
<text class="yr" x="994.5" y="403.2">0</text>
<text class="xlb" x="99.6" y="420.5" text-anchor="middle">2025</text>
<text class="xl" x="179.9" y="420.5" text-anchor="middle">Feb</text>
<text class="xl" x="252.4" y="420.5" text-anchor="middle">Mar</text>
<text class="xl" x="332.7" y="420.5" text-anchor="middle">Apr</text>
<text class="xl" x="410.4" y="420.5" text-anchor="middle">May</text>
<text class="xl" x="490.7" y="420.5" text-anchor="middle">Jun</text>
<text class="xl" x="568.4" y="420.5" text-anchor="middle">Jul</text>
<text class="xl" x="648.7" y="420.5" text-anchor="middle">Aug</text>
<text class="xl" x="729.0" y="420.5" text-anchor="middle">Sep</text>
<text class="xl" x="806.7" y="420.5" text-anchor="middle">Oct</text>
<text class="xl" x="887.0" y="420.5" text-anchor="middle">Nov</text>
<text class="xl" x="964.7" y="420.5" text-anchor="middle">Dec</text>

</svg>
</body></html>
